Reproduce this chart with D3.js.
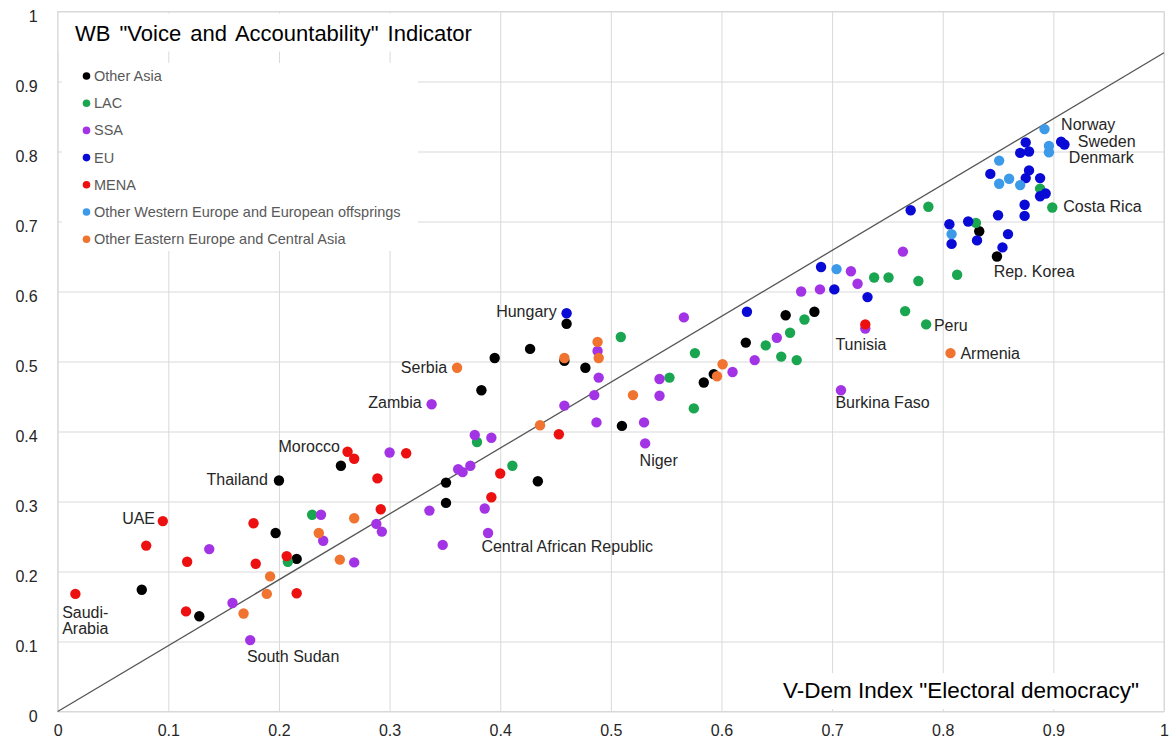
<!DOCTYPE html>
<html><head><meta charset="utf-8">
<script src="https://cdn.jsdelivr.net/npm/d3@7"></script>
<style>body{margin:0;background:#fff;font-family:Arial,"Liberation Sans",sans-serif;}</style>
</head><body><svg id="c" width="1170" height="744"></svg>
<script>
const tickValues = [0,0.1,0.2,0.3,0.4,0.5,0.6,0.7,0.8,0.9,1];
const tickLabels = ["0","0.1","0.2","0.3","0.4","0.5","0.6","0.7","0.8","0.9","1"];
const groups = ["Other Asia","LAC","SSA","EU","MENA","Other Western Europe and European offsprings","Other Eastern Europe and Central Asia"];
const colors = ["#000000","#1aa550","#a334e6","#0a0ad6","#ec1010","#3d9ae8","#f07330"];

const otherAsia = [[0.200,0.330],[0.197,0.255],[0.216,0.218],[0.076,0.174],[0.128,0.136],[0.256,0.351],[0.351,0.327],[0.351,0.298],[0.460,0.554],[0.427,0.518],[0.395,0.505],[0.458,0.501],[0.477,0.491],[0.383,0.459],[0.510,0.408],[0.434,0.329],[0.584,0.470],[0.593,0.482],[0.622,0.527],[0.658,0.566],[0.684,0.571],[0.833,0.686],[0.849,0.650]];
const lac = [[0.208,0.214],[0.230,0.281],[0.379,0.385],[0.411,0.351],[0.509,0.535],[0.553,0.477],[0.576,0.512],[0.575,0.433],[0.640,0.523],[0.662,0.541],[0.654,0.507],[0.668,0.502],[0.675,0.560],[0.738,0.620],[0.751,0.620],[0.778,0.615],[0.813,0.624],[0.766,0.572],[0.785,0.553],[0.787,0.721],[0.830,0.698],[0.888,0.747],[0.899,0.720]];
const ssa = [[0.137,0.232],[0.238,0.281],[0.240,0.244],[0.158,0.155],[0.174,0.102],[0.338,0.439],[0.300,0.370],[0.362,0.346],[0.366,0.342],[0.373,0.351],[0.336,0.287],[0.288,0.268],[0.293,0.257],[0.348,0.238],[0.268,0.213],[0.386,0.290],[0.389,0.255],[0.377,0.395],[0.392,0.391],[0.488,0.515],[0.489,0.477],[0.485,0.452],[0.458,0.437],[0.487,0.413],[0.566,0.563],[0.544,0.475],[0.544,0.451],[0.530,0.413],[0.531,0.383],[0.610,0.485],[0.630,0.502],[0.650,0.534],[0.672,0.600],[0.689,0.603],[0.723,0.611],[0.717,0.629],[0.730,0.547],[0.708,0.459],[0.764,0.657]];
const eu = [[0.460,0.569],[0.623,0.571],[0.690,0.635],[0.702,0.603],[0.732,0.592],[0.771,0.716],[0.806,0.696],[0.808,0.668],[0.823,0.700],[0.831,0.673],[0.859,0.682],[0.854,0.663],[0.850,0.709],[0.874,0.724],[0.874,0.708],[0.888,0.736],[0.893,0.740],[0.888,0.762],[0.875,0.762],[0.878,0.773],[0.843,0.768],[0.870,0.798],[0.878,0.800],[0.875,0.813],[0.907,0.814],[0.910,0.810]];
const mena = [[0.016,0.168],[0.095,0.272],[0.080,0.237],[0.117,0.214],[0.177,0.269],[0.179,0.211],[0.207,0.222],[0.216,0.169],[0.116,0.143],[0.262,0.371],[0.268,0.361],[0.315,0.369],[0.289,0.333],[0.292,0.289],[0.400,0.340],[0.392,0.306],[0.453,0.396],[0.730,0.553]];
const otherWest = [[0.704,0.632],[0.808,0.682],[0.851,0.787],[0.851,0.754],[0.860,0.761],[0.870,0.752],[0.892,0.832],[0.896,0.808],[0.896,0.799]];
const otherEast = [[0.236,0.255],[0.255,0.217],[0.192,0.193],[0.189,0.168],[0.168,0.140],[0.268,0.276],[0.361,0.491],[0.488,0.528],[0.489,0.505],[0.458,0.505],[0.520,0.452],[0.436,0.409],[0.596,0.479],[0.601,0.496],[0.807,0.512]];
const seriesValues = [otherAsia, lac, ssa, eu, mena, otherWest, otherEast];

// reference line (start and end, in data units)
const refLine = [[0,0],[1,0.941]];

// country labels: name, x, y (data units of text anchor), anchor
const labelNames = ["UAE","Saudi-","Arabia","South Sudan","Thailand","Morocco","Zambia","Serbia","Hungary","Central African Republic","Niger","Tunisia","Burkina Faso","Peru","Armenia","Costa Rica","Rep. Korea","Norway","Sweden","Denmark"];
const labelX = [0.088,0.004,0.004,0.171,0.190,0.255,0.329,0.352,0.451,0.383,0.526,0.703,0.703,0.792,0.816,0.909,0.846,0.907,0.922,0.914];
const labelY = [0.276,0.142,0.118,0.078,0.331,0.378,0.441,0.492,0.572,0.236,0.358,0.524,0.441,0.552,0.512,0.721,0.628,0.838,0.815,0.792];
const labelAnchor = ["end","start","start","start","end","end","end","end","end","start","start","start","start","start","start","start","start","start","start","start"];

const titleText = 'WB "Voice and Accountability" Indicator';
const xTitleText = 'V-Dem Index "Electoral democracy"';

const svg = d3.select("#c");
const L = 57.7, R = 1164, T = 11.5, B = 711.5;
const x = d3.scaleLinear().domain([0,1]).range([L,R]);
const y = d3.scaleLinear().domain([0,1]).range([B,T]);

// grid + axes
const gx = svg.append("g").attr("transform",`translate(0,${B})`)
  .call(d3.axisBottom(x).tickValues(tickValues).tickFormat((d,i)=>tickLabels[i]).tickSizeInner(-(B-T)).tickSizeOuter(0).tickPadding(13));
const gy = svg.append("g").attr("transform",`translate(${L},0)`)
  .call(d3.axisLeft(y).tickValues(tickValues).tickFormat((d,i)=>tickLabels[i]).tickSizeInner(-(R-L)).tickSizeOuter(0).tickPadding(20));
[gx,gy].forEach(g=>{
  g.select(".domain").remove();
  g.selectAll(".tick line").attr("stroke","#d9d9d9").attr("stroke-width",1);
  g.selectAll(".tick text").attr("font-family","Arial, 'Liberation Sans', sans-serif").attr("font-size",16).attr("fill","#262626");
});
gy.selectAll(".tick text").attr("dy","0.62em");
svg.append("rect").attr("x",L).attr("y",T).attr("width",R-L).attr("height",B-T)
  .attr("fill","none").attr("stroke","#d9d9d9");

// title box & legend box (white backgrounds)
svg.append("rect").attr("x",L+1).attr("y",T+2).attr("width",426).attr("height",38).attr("fill","#fff");
svg.append("rect").attr("x",62).attr("y",63).attr("width",356).attr("height",188).attr("fill","#fff");
svg.append("rect").attr("x",770).attr("y",673).attr("width",380).attr("height",36).attr("fill","#fff");

// reference line
svg.append("line")
  .attr("x1",x(refLine[0][0])).attr("y1",y(refLine[0][1]))
  .attr("x2",x(refLine[1][0])).attr("y2",y(refLine[1][1]))
  .attr("stroke","#555").attr("stroke-width",1.3);

// points
seriesValues.forEach((vals,gi)=>{
  svg.append("g").selectAll("circle").data(vals).join("circle")
    .attr("cx",d=>x(d[0])).attr("cy",d=>y(d[1])).attr("r",5.2)
    .attr("fill",colors[gi]);
});

// labels
svg.append("g").selectAll("text").data(labelNames).join("text")
  .attr("x",(d,i)=>x(labelX[i])).attr("y",(d,i)=>y(labelY[i]))
  .attr("text-anchor",(d,i)=>labelAnchor[i]).attr("dominant-baseline","central")
  .attr("font-size",16).attr("fill","#262626").text(d=>d);

// title
svg.append("text").attr("x",75).attr("y",33).attr("dominant-baseline","central")
  .attr("font-size",22).attr("word-spacing","3px").attr("fill","#000").text(titleText);
// x title
svg.append("text").attr("x",1139).attr("y",690).attr("dominant-baseline","central")
  .attr("text-anchor","end").attr("font-size",22.5).attr("fill","#000").text(xTitleText);

// legend
const lg = svg.append("g");
groups.forEach((g,i)=>{
  const cy = 76 + i*27.2;
  lg.append("circle").attr("cx",86.5).attr("cy",cy).attr("r",3.8).attr("fill",colors[i]);
  lg.append("text").attr("x",94).attr("y",cy).attr("dominant-baseline","central")
    .attr("font-size",14.5).attr("fill","#595959").text(g);
});
</script></body></html>
